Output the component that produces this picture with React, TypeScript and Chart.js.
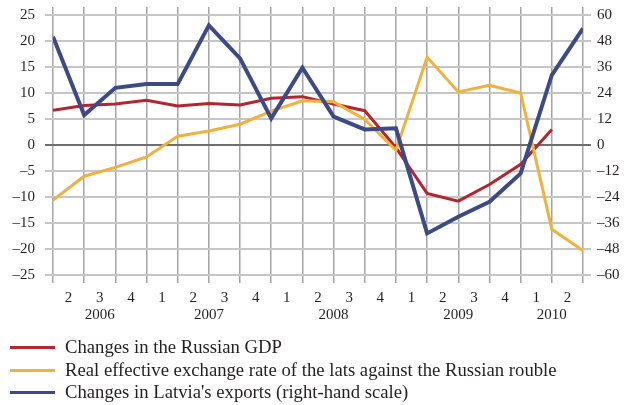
import React, { useEffect, useRef } from "react";
import { Chart, registerables } from "chart.js";

Chart.register(...registerables);

const quarterLabels = ["2", "3", "4", "1", "2", "3", "4", "1", "2", "3", "4", "1", "2", "3", "4", "1", "2"];
const yearLabels = ["2006", "2007", "2008", "2009", "2010"];

const russianGdp = [6.7, 7.6, 7.9, 8.6, 7.5, 8.0, 7.7, 9.0, 9.3, 7.9, 6.6, -0.5, -9.3, -10.8, -7.6, -3.7, 3.0, null];
const latsRate = [-10.6, -6.0, -4.3, -2.3, 1.7, 2.7, 4.0, 6.5, 8.5, 8.3, 4.9, -1.0, 16.9, 10.2, 11.5, 10.0, -16.2, -20.3];
const latviaExports = [50.0, 13.8, 26.4, 28.2, 28.2, 55.2, 40.0, 12.3, 35.7, 13.1, 7.2, 7.7, -40.8, -33.1, -26.2, -13.1, 32.3, 53.8];

const seriesNames = [
  "Changes in the Russian GDP",
  "Real effective exchange rate of the lats against the Russian rouble",
  "Changes in Latvia's exports (right-hand scale)",
];
const seriesColors = ["#b5252f", "#f0b23c", "#3d4a84"];

const FONT = "'Liberation Serif', 'Times New Roman', serif";
const TEXT = "#231f20";
const HGRID = "#c6c6c6";
const VGRID = "#a4a4a4";
const ZERO = "#6e6e6e";

const fmt = (v: number) => (v < 0 ? "\u2013" + Math.abs(v) : String(v));

function yearCenters(): number[] {
  const centers: number[] = [];
  let start = 0;
  for (let i = 1; i <= quarterLabels.length; i++) {
    if (i === quarterLabels.length || quarterLabels[i] === "1") {
      centers.push((start + i) / 2);
      start = i;
    }
  }
  return centers;
}

export default function App() {
  const ref = useRef<HTMLCanvasElement | null>(null);

  useEffect(() => {
    if (!ref.current) return;
    const n = quarterLabels.length;
    const pts = (arr: (number | null)[]) => arr.map((v, i) => ({ x: i, y: v }));
    const yc = yearCenters();
    const chart = new Chart(ref.current, {
      type: "line",
      data: {
        datasets: [
          {
            label: seriesNames[0],
            data: pts(russianGdp) as any,
            borderColor: seriesColors[0],
            borderWidth: 3,
            pointRadius: 0,
            yAxisID: "y",
            xAxisID: "x",
            order: 2,
          },
          {
            label: seriesNames[1],
            data: pts(latsRate) as any,
            borderColor: seriesColors[1],
            borderWidth: 3,
            pointRadius: 0,
            yAxisID: "y",
            xAxisID: "x",
            order: 1,
          },
          {
            label: seriesNames[2],
            data: pts(latviaExports) as any,
            borderColor: seriesColors[2],
            borderWidth: 4,
            pointRadius: 0,
            yAxisID: "y1",
            xAxisID: "x",
            order: 0,
          },
        ],
      },
      options: {
        animation: false,
        responsive: false,
        layout: { padding: { top: 7, bottom: 79.5, left: 0, right: 0 } },
        plugins: { legend: { display: false }, tooltip: { enabled: false } },
        scales: {
          x: {
            type: "linear",
            position: "bottom",
            min: 0,
            max: n,
            weight: 0,
            afterBuildTicks: (s: any) => {
              s.ticks = Array.from({ length: n + 1 }, (_, i) => ({ value: i }));
            },
            ticks: { display: false },
            grid: { color: VGRID, lineWidth: 1.5, tickLength: 8, drawTicks: true },
            border: { display: false },
          },
          xTop: {
            type: "linear",
            position: "top",
            min: 0,
            max: n,
            afterBuildTicks: (s: any) => {
              s.ticks = Array.from({ length: n + 1 }, (_, i) => ({ value: i }));
            },
            ticks: { display: false },
            grid: { color: VGRID, lineWidth: 1.5, tickLength: 8, drawOnChartArea: false },
            border: { display: false },
          },
          xq: {
            type: "linear",
            position: "bottom",
            min: 0,
            max: n,
            weight: 1,
            afterBuildTicks: (s: any) => {
              s.ticks = quarterLabels.map((_, i) => ({ value: i + 0.5 }));
            },
            afterFit: (s: any) => {
              s.height = 22.5;
            },
            ticks: {
              autoSkip: false,
              maxRotation: 0,
              padding: 7.5,
              color: TEXT,
              font: { family: FONT, size: 15, lineHeight: 1 },
              callback: (_v: any, i: number) => quarterLabels[i],
            },
            grid: { display: false, drawTicks: false },
            border: { display: false },
          },
          xy: {
            type: "linear",
            position: "bottom",
            min: 0,
            max: n,
            weight: 2,
            afterBuildTicks: (s: any) => {
              s.ticks = yc.map((v) => ({ value: v }));
            },
            afterFit: (s: any) => {
              s.height = 20;
            },
            ticks: {
              autoSkip: false,
              maxRotation: 0,
              padding: 2.5,
              color: TEXT,
              font: { family: FONT, size: 15, lineHeight: 1 },
              callback: (_v: any, i: number) => yearLabels[i],
            },
            grid: { display: false, drawTicks: false },
            border: { display: false },
          },
          y: {
            type: "linear",
            position: "left",
            min: -25,
            max: 25,
            afterFit: (s: any) => {
              s.width = 53;
              s.paddingTop = 0;
              s.paddingBottom = 0;
            },
            ticks: {
              stepSize: 5,
              padding: 10,
              color: TEXT,
              font: { family: FONT, size: 15, lineHeight: 1 },
              callback: (v: any) => fmt(Number(v)),
            },
            grid: {
              color: (c: any) => (c.tick && c.tick.value === 0 ? ZERO : HGRID),
              lineWidth: 2,
              tickLength: 8,
            },
            border: { display: false },
          },
          y1: {
            type: "linear",
            position: "right",
            min: -60,
            max: 60,
            afterFit: (s: any) => {
              s.width = 41;
              s.paddingTop = 0;
              s.paddingBottom = 0;
            },
            ticks: {
              stepSize: 12,
              padding: 6,
              color: TEXT,
              font: { family: FONT, size: 15, lineHeight: 1 },
              callback: (v: any) => fmt(Number(v)),
            },
            grid: {
              color: (c: any) => (c.tick && c.tick.value === 0 ? ZERO : HGRID),
              lineWidth: 2,
              tickLength: 8,
              drawOnChartArea: false,
            },
            border: { display: false },
          },
        },
      },
    });
    return () => chart.destroy();
  }, []);

  const rowTops = [347, 370, 392];
  return (
    <div style={{ position: "absolute", left: 0, top: 0, width: 624, height: 405, background: "#fff" }}>
      <canvas ref={ref} width={624} height={405} style={{ display: "block" }} />
      {seriesNames.map((name, i) => (
        <div
          key={name}
          style={{
            position: "absolute",
            left: 0,
            top: rowTops[i] - 11,
            height: 22,
            display: "flex",
            alignItems: "center",
            fontFamily: FONT,
            fontSize: 18.7,
            color: TEXT,
            whiteSpace: "nowrap",
          }}
        >
          <span style={{ display: "inline-block", marginLeft: 10, width: 45, height: 3, background: seriesColors[i] }} />
          <span style={{ marginLeft: 10 }}>{name}</span>
        </div>
      ))}
    </div>
  );
}
